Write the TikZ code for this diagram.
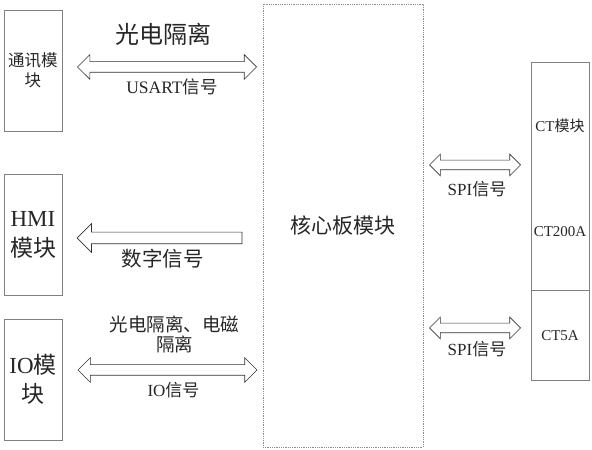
\documentclass[tikz,border=0pt]{standalone}
\usepackage{fontspec}
\setmainfont{Liberation Serif}
\newfontfamily\cjk{Noto Sans CJK SC}
\usetikzlibrary{shapes.arrows, positioning}
\tikzstyle{module}   = [rectangle, draw=black!50, line width=0.7pt, minimum width=58pt, minimum height=121pt,
                        inner sep=0pt, align=center, text=black!85]
\tikzstyle{core}     = [rectangle, draw=black!45, densely dotted, line width=0.8pt, minimum width=160pt,
                        minimum height=443pt, text=black!85, font=\fontsize{21}{24}\selectfont\cjk]
\tikzstyle{ctpart}   = [rectangle, draw=black!50, line width=0.7pt, minimum width=58pt, inner sep=0pt,
                        text=black!85, font=\fontsize{15}{18}\selectfont]
\tikzstyle{dblarrow} = [double arrow, draw=black!80, line width=0.7pt, fill=white, inner sep=5pt,
                        double arrow head extend=7pt, minimum height=179pt]
\tikzstyle{sglarrow} = [single arrow, shape border rotate=180, draw=black!80, line width=0.7pt, fill=white,
                        inner sep=5.5pt, single arrow head extend=8.5pt, minimum height=165pt]
\tikzstyle{spiarrow} = [dblarrow, inner sep=4.5pt, double arrow head extend=6pt, minimum height=91pt]
\tikzstyle{sigtext}  = [inner sep=0pt, align=center, text=black!85, font=\fontsize{17}{20}\selectfont]

\begin{document}
\begin{tikzpicture}[x=1pt, y=1pt]
    \useasboundingbox (0,0) rectangle (592,450);
    % left modules
    \node (comm) [module, font=\fontsize{16.5}{20}\selectfont\cjk] at (33,379.5) {通讯模\\块};
    \node (hmi) [module, font=\fontsize{23}{30}\selectfont] at (33,215.5) {HMI\\{\cjk 模块}};
    \node (io) [module, font=\fontsize{23}{29}\selectfont] at (33,70.5) {IO{\cjk 模}\\{\cjk 块}};
    % core board
    \node (board) [core] at (343,224.5) {核心板模块};
    % CT module
    \node (ctup) [ctpart, minimum height=228pt] at (560,274) {};
    \node (ctlow) [ctpart, minimum height=90pt, below=0pt of ctup] {CT5A};
    \node (cttitle) [sigtext, font=\fontsize{15}{18}\selectfont, below=57pt of ctup.north] {CT{\cjk 模块}};
    \node (cttype) [sigtext, font=\fontsize{15}{18}\selectfont, above=54pt of ctup.south] {CT200A};

    % signal arrows
    \node (usart) [dblarrow] at (167,383) {};
    \node (digital) [sglarrow] at (162.5,212) {};
    \node (iosig) [dblarrow] at (167.5,80) {};
    \node (spia) [spiarrow] at (475,285) {};
    \node (spib) [spiarrow] at (475,122) {};

    \node (usartiso) [sigtext, font=\fontsize{24}{28}\selectfont\cjk, above=15.5pt of usart, xshift=-4pt] {光电隔离};
    \node (usartname) [sigtext, font=\fontsize{17.5}{20}\selectfont, below=5.5pt of usart, xshift=5pt] {USART{\cjk 信号}};
    \node (digitalname) [sigtext, font=\fontsize{20.5}{24}\selectfont\cjk, below=4.5pt of digital] {数字信号};
    \node (ioiso) [sigtext, font=\fontsize{18.5}{20}\selectfont\cjk, above=11pt of iosig, xshift=7pt] {光电隔离、电磁\\隔离};
    \node (ioname) [sigtext, below=6.5pt of iosig, xshift=6pt] {IO{\cjk 信号}};
    \node (spianame) [sigtext, below=11pt of spia, xshift=2pt] {SPI{\cjk 信号}};
    \node (spibname) [sigtext, below=8pt of spib, xshift=2pt] {SPI{\cjk 信号}};
\end{tikzpicture}
\end{document}
